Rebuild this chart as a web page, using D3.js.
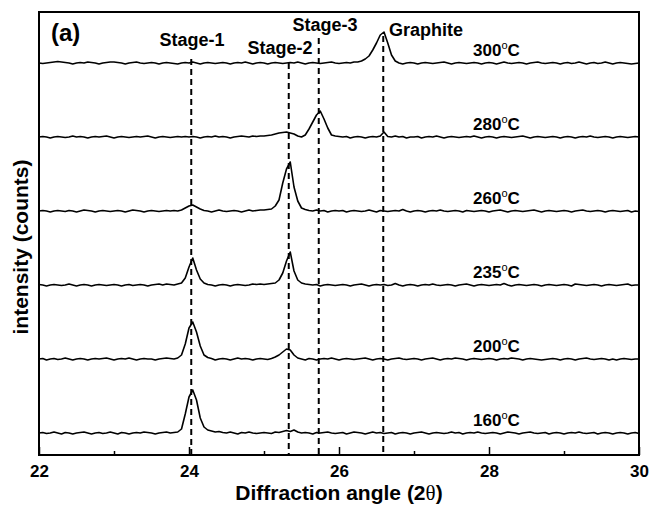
<!DOCTYPE html>
<html>
<head>
<meta charset="utf-8">
<script src="https://cdn.jsdelivr.net/npm/d3@7"></script>
<style>
  body { margin: 0; background: #fff; }
  svg { font-family: "Liberation Sans", Arial, sans-serif; font-weight: bold; }
</style>
</head>
<body>
<svg id="chart" width="652" height="506"></svg>
<script>
// every scan is sampled from 22 to 30 deg (2 theta) in 0.05 deg steps, 161 points
const angleStart = 22
const angleStep = 0.05

const temperatures = ['160', '200', '235', '260', '280', '300']
// vertical shift of each scan (counts)
const offsets = [22, 96, 170, 244, 318, 392]

// intensities above the scan's own baseline, one row per degree
const scan160 = [
  0, 0.5, -0.5, 0, 1, 0, -1, 0.5, 0, -1, 0, 0.5, 1, 0, -1, 0, 0.5, -0.5, 0, 1,
  0, -1, 0.5, 0, -1, 0, 0.5, 0, 1, 0.5, 0, -1, 0, 0.5, 1, 0, 0.5, 1, 4, 19,
  36, 43, 33, 15, 6, 3, 2, 1, 1.5, 0.5, 0, 1, 0, -1, 0.5, 0, 1, 0, -0.5, 0,
  0.5, 0, -0.5, 1, 0.5, 1.5, 2.5, 1.5, 3, 1, 0, 0.5, 0, -1, 0.5, 0, 0.5, 1, 0, -0.5,
  0, 0.5, -1, 0, 1, 0.5, 0, -1, 0, 1, 0, 0.5, -0.5, 0, 0.5, -1, 0, 0.5, 0, -1,
  0, 0.5, 1, 0, -1, 0, 0.5, 0, -0.5, 0, 1, 0, 0.5, -1, 0, 0.5, 0, 1, 0, -0.5,
  0, 0.5, 0, -1, 0, 1, 0.5, 0, -1, 0, 0.5, 1, 0, -0.5, 0, 0.5, -1, 0, 0.5, 0,
  -1, 0, 0.5, 0, 1, 0, -0.5, 0, 0.5, -1, 0, 0.5, 0, -1, 0, 0.5, 0, -1, 0, 0.5,
  -0.5
]
const scan200 = [
  0, 0.5, -1, 0, 0.5, -0.5, 0, 1, 0, -1, 0, 0.5, 0, -1, 0, 0.5, 0, 0.5, 1, 0,
  -1, 0, 0.5, 0, 1, 0, -1, 0, 0.5, 0, 0, -1, 0, 0.5, 1, 0.5, 0, 1, 4, 15,
  31, 37, 27, 13, 4, 1.5, 0.5, -1, 0, 0.5, 0, -1, 0, 1, 0, 0.5, 0, -1, 0, 0.5,
  0, -0.5, 0.5, 2, 4, 7, 10, 9, 4, 1, 0, -1, 0.5, 0, -1, 0, 0.5, 0, 1, 0,
  -1, 0, 0.5, 0, -0.5, 0, 0.5, 1, 0, -1, 0, 0.5, 0, -1, 0, 0.5, 1, 0, -0.5, 0,
  0.5, 0, -1, 0, 0.5, 1, 0, -1, 0, 0.5, 0, 1, 0.5, 0, -1, 0, 0.5, 0, -0.5, 0,
  0.5, 0, -1, 0, 0.5, 0, 1, 0.5, 0, -1, 0, 0.5, 0, -0.5, -1, -0.5, 0, 0.5, 0, -1,
  0, 0.5, 0, -1, 0, 0.5, 1, 0, -0.5, 0, 0.5, 0, -1, 0, -1, 0, 0.5, 0, -0.5, 0,
  0
]
const scan235 = [
  0.5, 0, -1, 0, 0.5, 0, -0.5, 0, 1, 0, -1, 0, 0.5, 0, -1, 0, 0.5, 0, -0.5, 0,
  0.5, 0, -1, 0, 0.5, -0.5, 0, 0.5, 0, -1, 0, 0.5, 1, 0, 1, 0.5, 0, 1, 2, 7,
  18, 27, 15, 6, 2, 0.5, 0, -1, 0, 0.5, 0, -1, 0, 0.5, 0, -0.5, 0, 1, 0.5, 1,
  0.5, 1, 1.5, 2, 5, 12, 24, 33, 14, 5, 2, 1, 0.5, 0, 0.5, -1, 0, 0.5, 0, -0.5,
  0, 0.5, 0, -1, 0, 0.5, 1, 0, -1, 0, 0.5, 0, 0.5, -0.5, 0, 1.5, 0, -1, 0, 0.5,
  0, -1, 0, 0.5, 0, 1, 0, -0.5, 0, 0.5, 0, -1, 0, 0.5, 1, 0, -1, 0, 0.5, 0,
  -0.5, 0, 0.5, 0, 1.5, 0, -1, 0, 0.5, 0, -0.5, 0, 0.5, 0, -1, 0, 0.5, 0, -0.5, 0,
  0.5, 0, -1, 1, 0.5, 0, -0.5, 0, 0.5, 0, -1, 0, 0.5, 0, -0.5, 0, 0.5, 1, -0.5, 0,
  0
]
const scan260 = [
  0, 0.5, 0, -1, 0, 0.5, 0, -0.5, 0.5, 0, -1, 0, 1, 0.5, 0, -1, 0, 0.5, 0, -0.5,
  0, 0.5, 0, -1, 0, 1, 0.5, 0, -1, 0, 0.5, 0, -0.5, 0, 0.5, 0, 0.5, 0, 1, 3,
  5, 6, 4, 2, 0.5, 0, -1, 0, 1, 0, -0.5, 0, 0.5, 0, -1, 0, 1, 0, 0.5, 1,
  1, 1.5, 2, 5, 11, 28, 42, 49, 24, 10, 3, 1.5, 0.5, 0, 1, 0, 0.5, -1, 0, 0.5,
  0, 0.5, -1, 0, 0.5, 0, -0.5, 0, 1, 0, -1, 0.5, 0, -0.5, 0, 0.5, 0, 1.5, 0, -1,
  0, 0.5, 0, -1, 0, 0.5, 0, 1, 0, -0.5, 0, 0.5, 0, -1, 0.5, 0, -0.5, 0, 0.5, 0,
  -1, 0, 0.5, 1, 0, -1, 0, 0.5, 0, -0.5, 0, 0.5, 1, 0, -1, 0, 0.5, 0, -0.5, 0,
  0.5, 0, -1, 0, 0.5, 1, 0, -0.5, 0, 0.5, 0, -1, 0, 0.5, 0, -0.5, 0, 0.5, -1, 0,
  -0.5
]
const scan280 = [
  0, 0.5, 0, -1, 0, 0.5, 0, -0.5, 0, 1, 0, 0.5, 0, -1, 0, 0.5, 0, 0.5, 1, 0,
  -1, 0, 0.5, 0, -0.5, 0, 0.5, 0, 0.5, 1, 0, -1, 0, 0.5, 0, -0.5, 0, 0.5, 0, 0.5,
  0, 0.5, 0, -1, 0, 0.5, 0, 1, 0, 0.5, 0, -1, 0, 0.5, 1, 0.5, 0, 1, 0.5, 1,
  1, 1.5, 2, 3, 4, 4.5, 5, 4, 3, 1, 0, 2, 8, 15, 22, 26, 18, 9, 2, 1,
  0.5, 0, 0.5, -1, 0, 0.5, 0, -1, 0, 0.5, 0, 1, 5, 0.5, 0, 1, 0, 0.5, -1, 0,
  0, 0.5, -1, 0, 0.5, 0, 1, 0, -1, 0, 0.5, 0, -0.5, 0, 0.5, 0, 1, 0, -1, 0,
  0.5, 0, -1, 0, 0.5, 0, -0.5, 0, 0.5, 1, 0, -1, 0, 0.5, 0, -0.5, 0, 0.5, 0, -1,
  0, 0.5, 0, -1, 0, 0.5, 0, 1, 0, -0.5, 0, 0.5, 0, -1, 0, 0.5, 0, -0.5, 0, 0.5,
  0
]
const scan300 = [
  0, -0.5, 0, 0.5, 1, 1.5, 1, 0.5, 0, -1, 0, 0.5, 0, 1, 0.5, 0, -1, 0, 0.5, 1,
  1, 0.5, 0, -1, 0, 0.5, 1, 0, -0.5, 0, 0.5, 0, -1, 0, 0.5, 0, -0.5, -1, 0, 0.5,
  0, 1, 0, -1, 0, 0.5, 0, -0.5, 0, 0.5, 0, -1, 0, 0.5, 0, 1, 0, -1, 0, 0.5,
  0, -1, 0, 0.5, 0, -0.5, 0, 0.5, 0, 1, 0, -1, 0, 0.5, 0, -0.5, 0, 0.5, 1, 0,
  -0.5, 0, 0.5, 0, 1, 1, 2, 4, 7, 13, 20, 28, 31, 20, 8, 2, 0, -1, 0, 0.5,
  0, -1, 0, 0.5, 0, -0.5, 0, 0.5, 1, 0, -1, 0, 0.5, 0, -0.5, 0, 0.5, 0, -1, 0,
  0.5, 0, -1, 0, 1, 0, -0.5, 0, 0.5, 0, -1, 0, 0.5, 1, 0, -0.5, 0, 0.5, 0, -1,
  0, 0.5, -0.5, 0, 1, 0, -1, 0, 0.5, -0.5, 0, 1, 0, -1, 0, 0.5, 0, -0.5, -1, -0.5,
  0
]
const scans = [scan160, scan200, scan235, scan260, scan280, scan300]

// reference reflections (2 theta)
const stageNames = ['Stage-1', 'Stage-2', 'Stage-3', 'Graphite']
const stageAngles = [24.03, 25.33, 25.73, 26.59]

const xTicks = [22, 24, 26, 28, 30]
const xMinorTicks = [23, 25, 27, 29]

// ---- layout ----
const width = 652
const height = 506
const margin = { top: 12, right: 13, bottom: 51, left: 39 }
const stageLineTop = [59, 63, 38, 36]
const stageLabelX = [192, 280, 325, 426]
const stageLabelY = [46, 54, 31, 36]

const svg = d3.select('#chart')

const x = d3.scaleLinear()
  .domain([22, 30])
  .range([margin.left, width - margin.right])

const y = d3.scaleLinear()
  .domain([0, 443])
  .range([height - margin.bottom, margin.top])

// dashed reference lines
svg.selectAll('.stage-line')
  .data(stageAngles)
  .enter()
  .append('line')
  .attr('class', 'stage-line')
  .attr('x1', d => x(d))
  .attr('x2', d => x(d))
  .attr('y1', (d, i) => stageLineTop[i])
  .attr('y2', y(0))
  .attr('stroke', '#000')
  .attr('stroke-width', 2)
  .attr('stroke-dasharray', '6,4')

// scans
const line = d3.line()
  .x((d, i) => x(angleStart + i * angleStep))

svg.selectAll('.scan')
  .data(scans)
  .enter()
  .append('path')
  .attr('class', 'scan')
  .attr('fill', 'none')
  .attr('stroke', '#000')
  .attr('stroke-width', 1.6)
  .attr('stroke-linejoin', 'round')
  .attr('d', (d, k) => line.y(v => y(offsets[k] + v))(d))

// temperature labels
const tLabels = svg.selectAll('.temp')
  .data(temperatures)
  .enter()
  .append('text')
  .attr('class', 'temp')
  .attr('x', x(28.1))
  .attr('y', (d, i) => y(offsets[i] + 7))
  .attr('text-anchor', 'middle')
  .style('font-size', '17px')
tLabels.append('tspan').text(d => d)
tLabels.append('tspan').text('o').attr('dy', -7).style('font-size', '11px').style('font-weight', 'normal')
tLabels.append('tspan').text('C').attr('dy', 7)

// stage labels
svg.selectAll('.stage-label')
  .data(stageNames)
  .enter()
  .append('text')
  .attr('class', 'stage-label')
  .attr('x', (d, i) => stageLabelX[i])
  .attr('y', (d, i) => stageLabelY[i])
  .attr('text-anchor', 'middle')
  .style('font-size', '18px')
  .text(d => d)

svg.append('text')
  .attr('x', 51)
  .attr('y', 41)
  .style('font-size', '24px')
  .text('(a)')

// axis ticks point inward
const xAxis = svg.append('g')
  .attr('transform', `translate(0,${y(0)})`)
  .call(d3.axisBottom(x).tickValues(xTicks).tickSizeInner(-8).tickSizeOuter(0).tickPadding(10).tickFormat(d3.format('d')))
xAxis.select('.domain').remove()
xAxis.selectAll('line').attr('stroke-width', 1.5)
xAxis.selectAll('text')
  .attr('fill', '#000')
  .style('font-family', '"Liberation Sans", Arial, sans-serif')
  .style('font-weight', 'bold')
  .style('font-size', '17px')

const xMinor = svg.append('g')
  .attr('transform', `translate(0,${y(0)})`)
  .call(d3.axisBottom(x).tickValues(xMinorTicks).tickSizeInner(-4).tickSizeOuter(0).tickFormat(''))
xMinor.select('.domain').remove()
xMinor.selectAll('line').attr('stroke-width', 1.5)

// frame
svg.append('rect')
  .attr('x', margin.left)
  .attr('y', margin.top)
  .attr('width', width - margin.left - margin.right)
  .attr('height', height - margin.top - margin.bottom)
  .attr('fill', 'none')
  .attr('stroke', '#000')
  .attr('stroke-width', 2)

// axis titles
const xTitle = svg.append('text')
  .attr('x', 339)
  .attr('y', 500)
  .attr('text-anchor', 'middle')
  .style('font-size', '21px')
xTitle.append('tspan').text('Diffraction angle (2')
xTitle.append('tspan').text('θ').style('font-family', '"Liberation Serif", serif').style('font-weight', 'normal')
xTitle.append('tspan').text(')')

svg.append('text')
  .attr('transform', 'translate(28,247) rotate(-90)')
  .attr('text-anchor', 'middle')
  .style('font-size', '21px')
  .text('intensity (counts)')
</script>
</body>
</html>
